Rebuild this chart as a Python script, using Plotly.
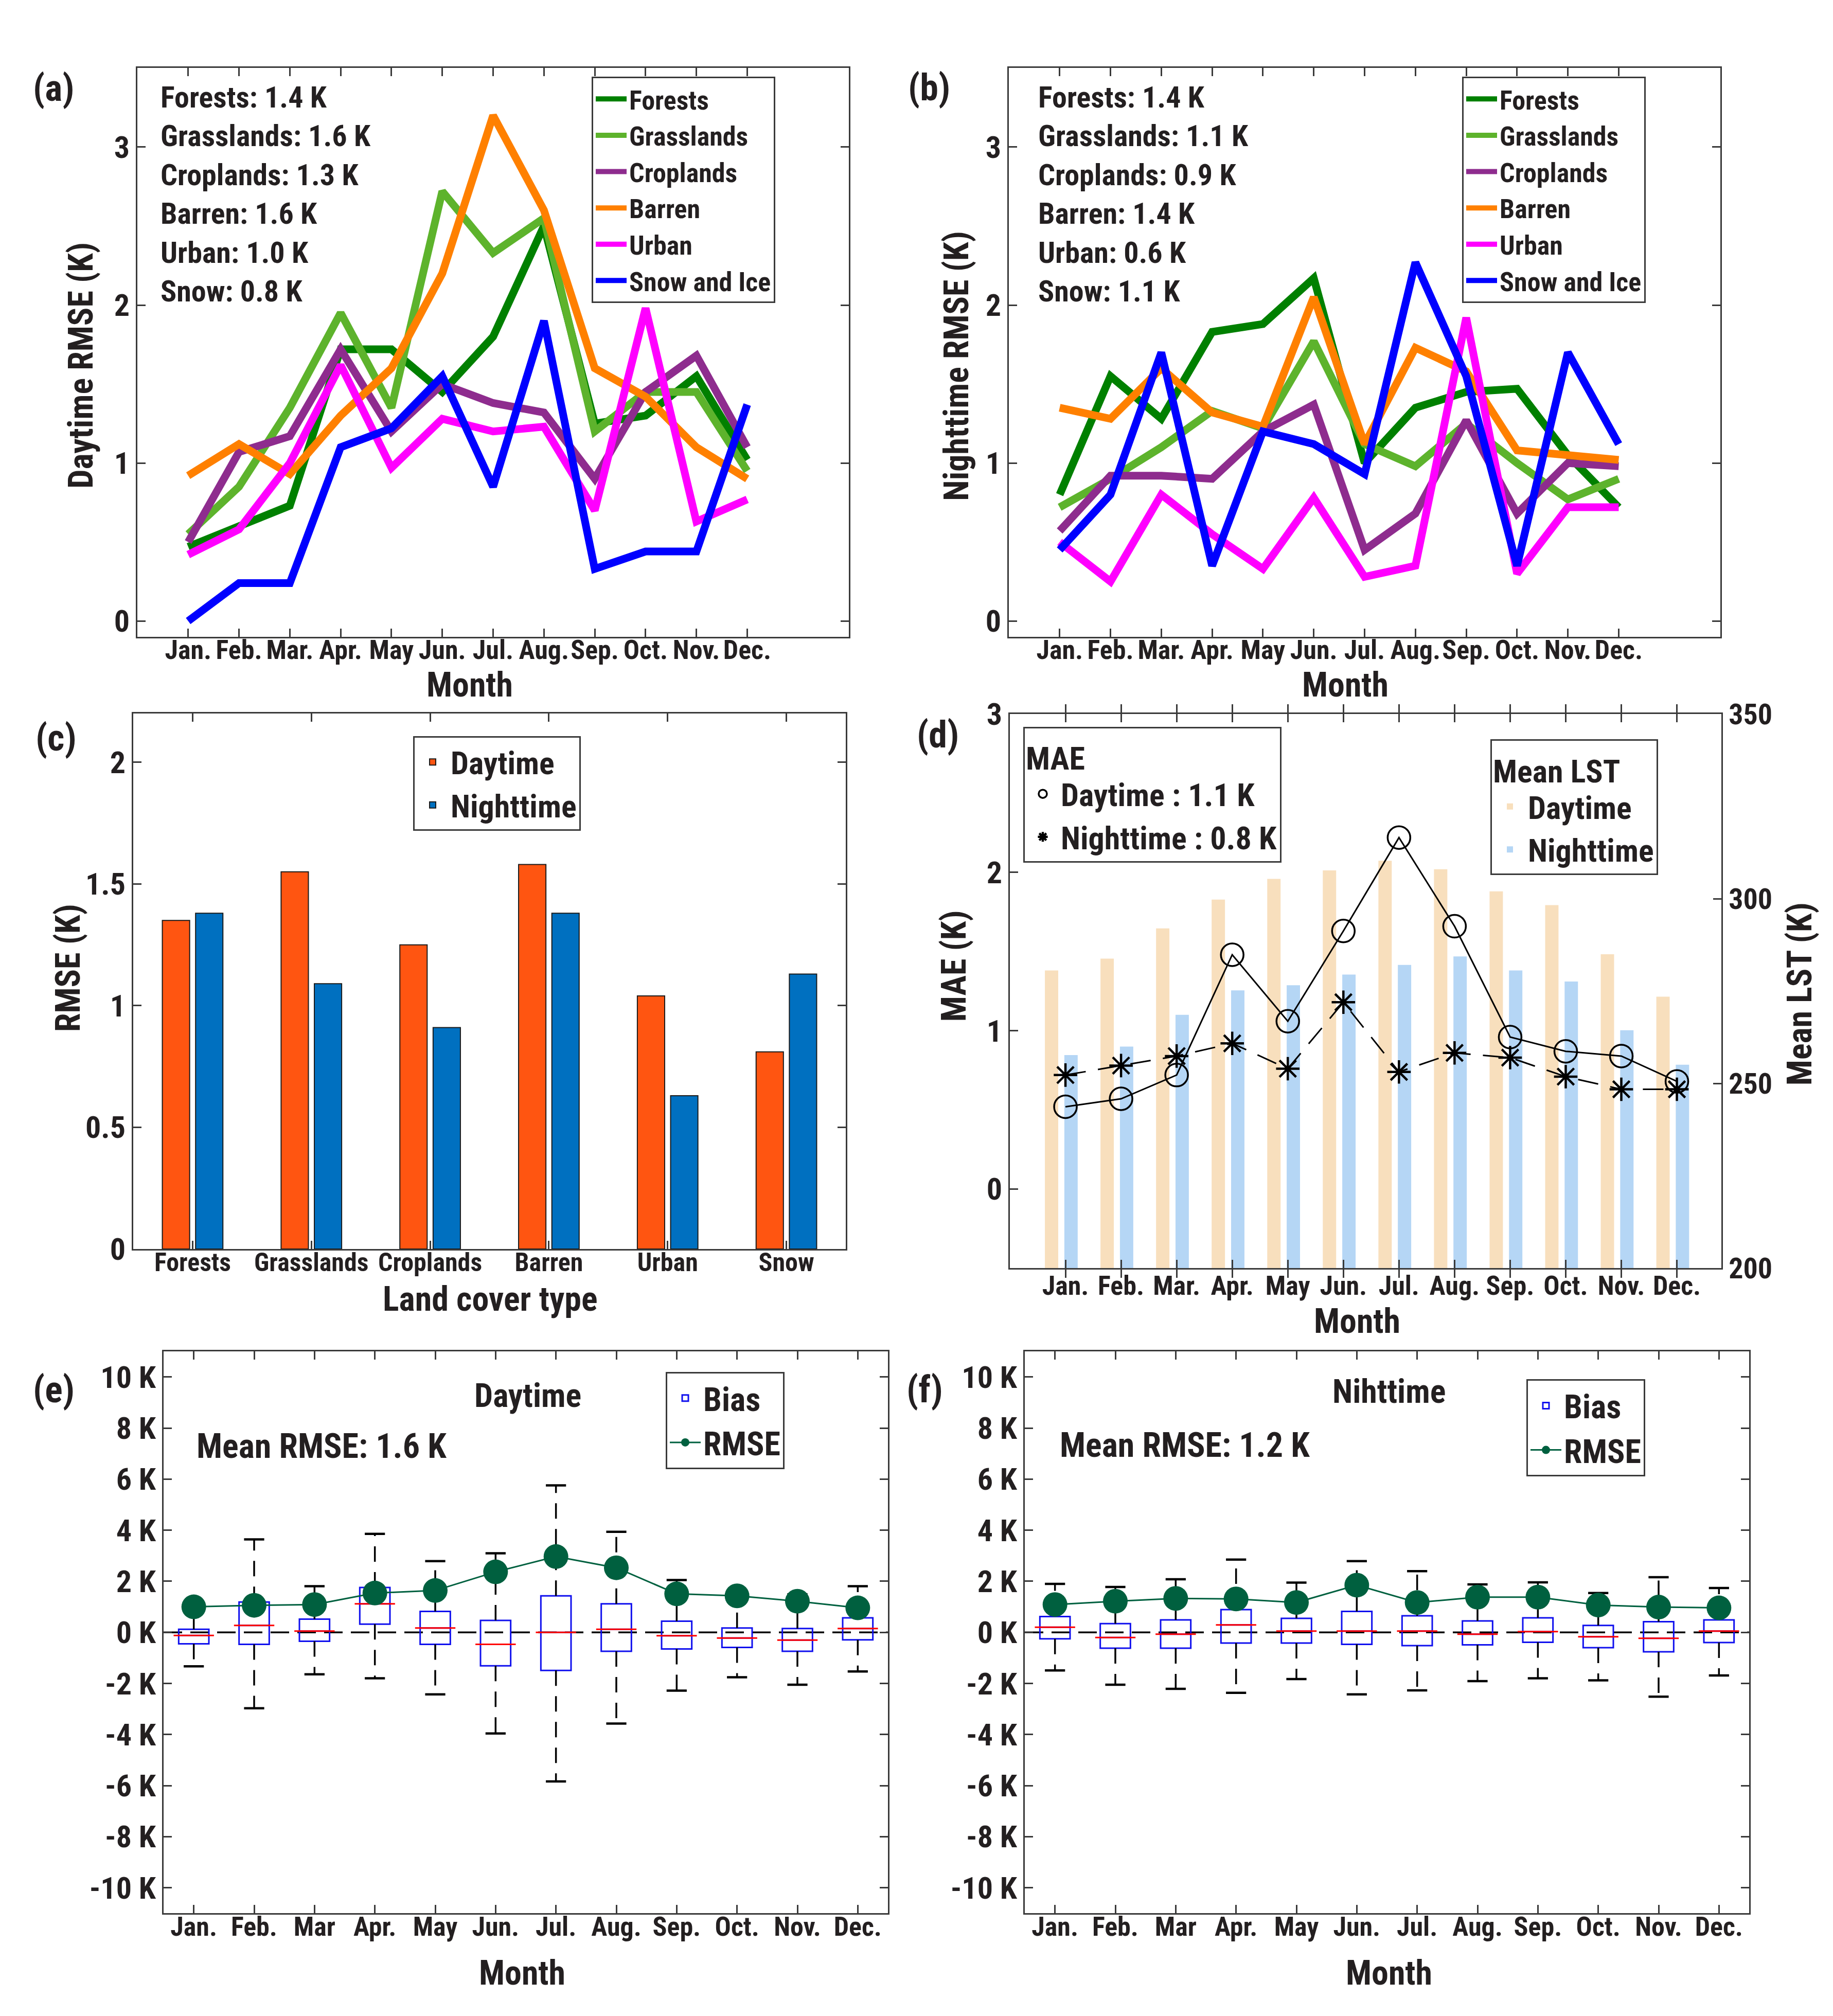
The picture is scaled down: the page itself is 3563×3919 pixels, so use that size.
import plotly.graph_objects as go

W, H = 3563, 3919
FONT = "Liberation Sans Narrow, Arial Narrow, Roboto Condensed, Liberation Sans, sans-serif"
TXT = '#231f20'
AX = '#3a3a3a'

# ---------------- data ----------------
month_idx = list(range(1, 13))
months_a = ['Jan.', 'Feb.', 'Mar.', 'Apr.', 'May', 'Jun.', 'Jul.', 'Aug.', 'Sep.', 'Oct.', 'Nov.', 'Dec.']
months_e = ['Jan.', 'Feb.', 'Mar', 'Apr.', 'May', 'Jun.', 'Jul.', 'Aug.', 'Sep.', 'Oct.', 'Nov.', 'Dec.']

lc_names = ['Forests', 'Grasslands', 'Croplands', 'Barren', 'Urban', 'Snow and Ice']
lc_colors = ['#008000', '#5db32c', '#8e2c8e', '#ff8000', '#ff00ff', '#0000ff']

# (a) daytime RMSE by land cover
day_forests = [0.47, 0.60, 0.73, 1.72, 1.72, 1.45, 1.80, 2.50, 1.25, 1.30, 1.55, 1.02]
day_grass = [0.55, 0.85, 1.35, 1.95, 1.35, 2.72, 2.33, 2.55, 1.20, 1.45, 1.45, 0.95]
day_crop = [0.50, 1.07, 1.17, 1.72, 1.20, 1.50, 1.38, 1.32, 0.90, 1.45, 1.68, 1.10]
day_barren = [0.92, 1.12, 0.93, 1.30, 1.60, 2.20, 3.20, 2.60, 1.60, 1.42, 1.10, 0.90]
day_urban = [0.42, 0.58, 1.00, 1.62, 0.97, 1.28, 1.20, 1.23, 0.70, 1.98, 0.63, 0.77]
day_snow = [0.00, 0.24, 0.24, 1.10, 1.22, 1.55, 0.85, 1.90, 0.33, 0.44, 0.44, 1.37]

# (b) nighttime RMSE by land cover
night_forests = [0.80, 1.55, 1.28, 1.83, 1.88, 2.17, 1.00, 1.35, 1.45, 1.47, 1.05, 0.72]
night_grass = [0.72, 0.90, 1.10, 1.33, 1.22, 1.77, 1.12, 0.98, 1.25, 1.00, 0.77, 0.90]
night_crop = [0.57, 0.92, 0.92, 0.90, 1.20, 1.37, 0.45, 0.68, 1.27, 0.68, 1.00, 0.98]
night_barren = [1.35, 1.28, 1.60, 1.32, 1.23, 2.05, 1.12, 1.73, 1.58, 1.08, 1.05, 1.02]
night_urban = [0.50, 0.25, 0.80, 0.55, 0.33, 0.78, 0.28, 0.35, 1.92, 0.30, 0.72, 0.72]
night_snow = [0.45, 0.80, 1.70, 0.35, 1.20, 1.12, 0.93, 2.27, 1.55, 0.35, 1.70, 1.12]

day_text = ['Forests: 1.4 K', 'Grasslands: 1.6 K', 'Croplands: 1.3 K', 'Barren: 1.6 K', 'Urban: 1.0 K', 'Snow: 0.8 K']
night_text = ['Forests: 1.4 K', 'Grasslands: 1.1 K', 'Croplands: 0.9 K', 'Barren: 1.4 K', 'Urban: 0.6 K', 'Snow: 1.1 K']

# (c) RMSE per land cover type
lc_types = ['Forests', 'Grasslands', 'Croplands', 'Barren', 'Urban', 'Snow']
rmse_day = [1.35, 1.55, 1.25, 1.58, 1.04, 0.81]
rmse_night = [1.38, 1.09, 0.91, 1.38, 0.63, 1.13]

# (d) MAE and mean LST
lst_day = [280.6, 283.8, 292.0, 299.8, 305.4, 307.7, 310.3, 308.0, 302.0, 298.3, 285.0, 273.5]
lst_night = [257.7, 260.0, 268.6, 275.2, 276.6, 279.5, 282.1, 284.4, 280.6, 277.6, 264.4, 255.1]
mae_day = [0.52, 0.57, 0.72, 1.48, 1.06, 1.63, 2.22, 1.66, 0.96, 0.87, 0.84, 0.68]
mae_night = [0.72, 0.78, 0.84, 0.92, 0.76, 1.18, 0.74, 0.86, 0.83, 0.71, 0.63, 0.63]

# (e) daytime bias boxes and RMSE
e_upper = [1.00, 3.64, 1.81, 3.86, 2.79, 3.10, 5.76, 3.94, 2.05, 1.34, 1.49, 1.81]
e_q3 = [0.12, 1.19, 0.52, 1.76, 0.82, 0.47, 1.43, 1.12, 0.44, 0.17, 0.15, 0.57]
e_med = [-0.12, 0.27, 0.05, 1.12, 0.17, -0.47, 0.00, 0.12, -0.13, -0.22, -0.30, 0.15]
e_q1 = [-0.45, -0.47, -0.35, 0.32, -0.47, -1.31, -1.49, -0.74, -0.65, -0.59, -0.74, -0.29]
e_lower = [-1.33, -2.97, -1.64, -1.80, -2.43, -3.96, -5.84, -3.57, -2.28, -1.76, -2.05, -1.53]
e_rmse = [1.00, 1.06, 1.09, 1.54, 1.64, 2.37, 2.97, 2.53, 1.51, 1.43, 1.22, 0.96]

# (f) nighttime bias boxes and RMSE
f_upper = [1.90, 1.78, 2.08, 2.85, 1.95, 2.79, 2.40, 1.88, 1.96, 1.54, 2.16, 1.74]
f_q3 = [0.62, 0.34, 0.49, 0.89, 0.55, 0.82, 0.65, 0.45, 0.57, 0.27, 0.42, 0.49]
f_med = [0.20, -0.20, -0.07, 0.29, 0.05, 0.05, 0.05, -0.07, 0.03, -0.17, -0.23, 0.05]
f_q1 = [-0.25, -0.62, -0.62, -0.42, -0.42, -0.47, -0.52, -0.49, -0.39, -0.60, -0.76, -0.40]
f_lower = [-1.49, -2.05, -2.21, -2.37, -1.83, -2.43, -2.27, -1.91, -1.80, -1.88, -2.52, -1.69]
f_rmse = [1.09, 1.22, 1.33, 1.31, 1.17, 1.85, 1.17, 1.38, 1.38, 1.07, 0.99, 0.96]

bias_ticks = [-10, -8, -6, -4, -2, 0, 2, 4, 6, 8, 10]
bias_ticktext = [f'{v} K' for v in bias_ticks]


# ---------------- helpers ----------------
def dx(l, r):
    return [l / W, r / W]


def dy(t, b):
    return [1 - b / H, 1 - t / H]


def fnt(size, color=TXT):
    return dict(family=FONT, size=size, color=color, weight='bold')


def axstyle(**kw):
    d = dict(showline=True, linecolor=AX, linewidth=3, mirror='allticks', ticks='inside',
             ticklen=16, tickwidth=3, tickcolor=AX, showgrid=False, zeroline=False,
             tickfont=fnt(52), tickangle=0)
    d.update(kw)
    return d


fig = go.Figure()

# (a) and (b)
series_a = [day_forests, day_grass, day_crop, day_barren, day_urban, day_snow]
series_b = [night_forests, night_grass, night_crop, night_barren, night_urban, night_snow]
for name, col, ya in zip(lc_names, lc_colors, series_a):
    fig.add_trace(go.Scatter(x=month_idx, y=ya, mode='lines', name=name,
                             line=dict(color=col, width=15), xaxis='x', yaxis='y', legend='legend'))
for name, col, yb in zip(lc_names, lc_colors, series_b):
    fig.add_trace(go.Scatter(x=month_idx, y=yb, mode='lines', name=name,
                             line=dict(color=col, width=15), xaxis='x2', yaxis='y2', legend='legend2'))

# (c)
lc_pos = list(range(1, len(lc_types) + 1))
fig.add_trace(go.Bar(x=lc_pos, y=rmse_day, name='Daytime', width=0.23, offset=-0.255,
                     marker=dict(color='#ff5511', line=dict(color='#1a1a1a', width=2)),
                     xaxis='x3', yaxis='y3', legend='legend3'))
fig.add_trace(go.Bar(x=lc_pos, y=rmse_night, name='Nighttime', width=0.23, offset=0.025,
                     marker=dict(color='#0070c0', line=dict(color='#1a1a1a', width=2)),
                     xaxis='x3', yaxis='y3', legend='legend3'))

# (d) bars on right axis (base), MAE on left overlay axis
fig.add_trace(go.Bar(x=month_idx, y=lst_day, name='Daytime', width=0.24, offset=-0.37,
                     marker=dict(color='#f8dfbd', line=dict(width=0)),
                     xaxis='x4', yaxis='y4', legend='legend5'))
fig.add_trace(go.Bar(x=month_idx, y=lst_night, name='Nighttime', width=0.24, offset=-0.02,
                     marker=dict(color='#b5d6f5', line=dict(width=0)),
                     xaxis='x4', yaxis='y4', legend='legend5'))
fig.add_trace(go.Scatter(x=month_idx, y=mae_day, mode='lines', line=dict(color='black', width=3),
                         showlegend=False, xaxis='x4', yaxis='y7'))
fig.add_trace(go.Scatter(x=month_idx, y=mae_night, mode='lines',
                         line=dict(color='black', width=3, dash='40px,24px'),
                         showlegend=False, xaxis='x4', yaxis='y7'))
fig.add_trace(go.Scatter(x=month_idx, y=mae_day, mode='markers', name='Daytime : 1.1 K',
                         marker=dict(symbol='circle-open', size=44, color='black', line=dict(width=3.5)),
                         xaxis='x4', yaxis='y7', legend='legend4'))
fig.add_trace(go.Scatter(x=month_idx, y=mae_night, mode='markers', name='Nighttime : 0.8 K',
                         marker=dict(symbol='asterisk-open', size=38, color='black',
                                     line=dict(width=4.5, color='black')),
                         xaxis='x4', yaxis='y7', legend='legend4'))


# (e), (f)
def add_box_panel(xa, ya, lg, upper, q3, med, q1, lower, rmse):
    fig.add_trace(go.Box(x=month_idx, q1=q1, median=med, q3=q3, lowerfence=q1, upperfence=q3,
                         width=0.5, name='Bias', fillcolor='rgba(255,255,255,0)',
                         line=dict(color='#1010ee', width=3), boxpoints=False,
                         xaxis=xa, yaxis=ya, legend=lg))
    wx, wy = [], []
    for m, a, b, c, d in zip(month_idx, q3, upper, q1, lower):
        wx += [m, m, None, m, m, None]
        wy += [a, b, None, c, d, None]
    fig.add_trace(go.Scatter(x=wx, y=wy, mode='lines', line=dict(color='black', width=3.5, dash='30px,20px'),
                             showlegend=False, xaxis=xa, yaxis=ya, hoverinfo='skip'))
    fig.add_trace(go.Scatter(x=month_idx + month_idx, y=upper + lower, mode='markers',
                             marker=dict(symbol='line-ew', size=28, line=dict(width=4.5, color='black')),
                             showlegend=False, xaxis=xa, yaxis=ya))
    fig.add_trace(go.Scatter(x=month_idx, y=med, mode='markers',
                             marker=dict(symbol='line-ew', size=56, line=dict(width=3, color='#ff0000')),
                             showlegend=False, xaxis=xa, yaxis=ya))
    fig.add_trace(go.Scatter(x=month_idx, y=rmse, mode='lines+markers', name='RMSE',
                             line=dict(color='#00603f', width=3),
                             marker=dict(size=48, color='#00603f'),
                             xaxis=xa, yaxis=ya, legend=lg))


add_box_panel('x5', 'y5', 'legend6', e_upper, e_q3, e_med, e_q1, e_lower, e_rmse)
add_box_panel('x6', 'y6', 'legend7', f_upper, f_q3, f_med, f_q1, f_lower, f_rmse)

# ---------------- layout ----------------
dom_a = dx(259, 1642)
dom_b = dx(1953, 3336)
dom_ab_y = dy(91, 1217)

layout = dict(
    width=W, height=H, margin=dict(l=0, r=0, t=0, b=0),
    paper_bgcolor='white', plot_bgcolor='white', barmode='overlay',
    font=fnt(50),
    xaxis=axstyle(domain=dom_a, anchor='y', range=[0, 14], tickvals=month_idx, ticktext=months_a,
                  ticklabelstandoff=-22),
    yaxis=axstyle(domain=dom_ab_y, anchor='x', range=[-0.1, 3.5], tickvals=[0, 1, 2, 3], tickfont=fnt(60)),
    xaxis2=axstyle(domain=dom_b, anchor='y2', range=[0, 14], tickvals=month_idx, ticktext=months_a,
                   ticklabelstandoff=-22),
    yaxis2=axstyle(domain=dom_ab_y, anchor='x2', range=[-0.1, 3.5], tickvals=[0, 1, 2, 3], tickfont=fnt(60)),
    xaxis3=axstyle(domain=dx(251, 1636), anchor='y3', range=[0.5, 6.5], tickvals=lc_pos, ticktext=lc_types,
                   tickfont=fnt(50), ticklabelstandoff=-20),
    yaxis3=axstyle(domain=dy(1369, 2429), anchor='x3', range=[0, 2.2], tickvals=[0, 0.5, 1, 1.5, 2],
                   ticktext=['0', '0.5', '1', '1.5', '2'], tickfont=fnt(60)),
    xaxis4=axstyle(domain=dx(1955, 3338), anchor='y4', range=[0, 12.8], tickvals=month_idx, ticktext=months_a,
                   ticklabelstandoff=-14),
    yaxis4=axstyle(domain=dy(1370, 2467), anchor='x4', side='right', mirror=False, range=[200, 350],
                   tickvals=[200, 250, 300, 350], tickfont=fnt(56)),
    yaxis7=axstyle(anchor='x4', overlaying='y4', side='left', mirror=False, range=[-0.5, 3],
                   tickvals=[0, 1, 2, 3], tickfont=fnt(60)),
    xaxis5=axstyle(domain=dx(310, 1718), anchor='y5', range=[0.5, 12.5], tickvals=month_idx, ticktext=months_e,
                   tickfont=fnt(52), ticklabelstandoff=-22),
    yaxis5=axstyle(domain=dy(2632, 3744), anchor='x5', range=[-11, 11], tickvals=bias_ticks,
                   ticktext=bias_ticktext, tickfont=fnt(60)),
    xaxis6=axstyle(domain=dx(1984, 3392), anchor='y6', range=[0.5, 12.5], tickvals=month_idx, ticktext=months_e,
                   tickfont=fnt(52), ticklabelstandoff=-22),
    yaxis6=axstyle(domain=dy(2632, 3744), anchor='x6', range=[-11, 11], tickvals=bias_ticks,
                   ticktext=bias_ticktext, tickfont=fnt(60)),
)


def legend_at(x, y, size=48, title=None):
    d = dict(x=x / W, y=1 - y / H, xanchor='left', yanchor='top', xref='paper', yref='paper',
             bgcolor='white', bordercolor=AX, borderwidth=3, font=fnt(size), tracegroupgap=0,
             itemwidth=60)
    if title:
        d['title'] = dict(text=title, font=fnt(size))
    return d


layout['legend'] = legend_at(1142, 108, 52)
layout['legend2'] = legend_at(2834, 108, 52)
layout['legend3'] = legend_at(795, 1414, 62)
layout['legend4'] = legend_at(1981, 1395, 62, 'MAE')
layout['legend5'] = legend_at(2889, 1420, 62, 'Mean LST')
layout['legend6'] = legend_at(1286, 2672, 64)
layout['legend7'] = legend_at(2959, 2687, 64)

fig.update_layout(**layout)


def ann(text, x, y, size, xanchor='center', yanchor='middle', angle=0, align='center'):
    fig.add_annotation(text=text, x=x / W, y=1 - y / H, xref='paper', yref='paper',
                       xanchor=xanchor, yanchor=yanchor, textangle=angle, align=align,
                       showarrow=False, font=fnt(size))


# panel labels
for lab, x, y in [('(a)', 96, 131), ('(b)', 1798, 130), ('(c)', 101, 1417),
                  ('(d)', 1815, 1411), ('(e)', 96, 2708), ('(f)', 1789, 2708)]:
    ann(lab, x, y, 72)

# text blocks
ann('<br>'.join(day_text), 302, 112, 58, xanchor='left', yanchor='top', align='left')
ann('<br>'.join(night_text), 2008, 112, 58, xanchor='left', yanchor='top', align='left')

# axis titles
ann('Daytime RMSE (K)', 150, 680, 66, angle=-90)
ann('Nighttime RMSE (K)', 1852, 680, 66, angle=-90)
ann('Month', 905, 1312, 66)
ann('Month', 2607, 1312, 66)
ann('RMSE (K)', 124, 1873, 66, angle=-90)
ann('Land cover type', 945, 2528, 66)
ann('MAE (K)', 1846, 1869, 66, angle=-90)
ann('Mean LST (K)', 3490, 1924, 66, angle=-90)
ann('Month', 2630, 2572, 66)
ann('Month', 1007, 3862, 66)
ann('Month', 2692, 3862, 66)

# panel e/f inner texts
ann('Daytime', 1018, 2720, 64)
ann('Nihttime', 2692, 2712, 64)
ann('Mean RMSE: 1.6 K', 372, 2820, 66, xanchor='left')
ann('Mean RMSE: 1.2 K', 2050, 2818, 66, xanchor='left')

# zero reference lines in (e), (f)
for xa, ya in [('x5', 'y5'), ('x6', 'y6')]:
    fig.add_shape(type='line', xref=f'{xa} domain', yref=ya, x0=0, x1=1, y0=0, y1=0,
                  line=dict(color='black', width=3.5, dash='36px,16px'), layer='below')

fig.write_html('out.html')
